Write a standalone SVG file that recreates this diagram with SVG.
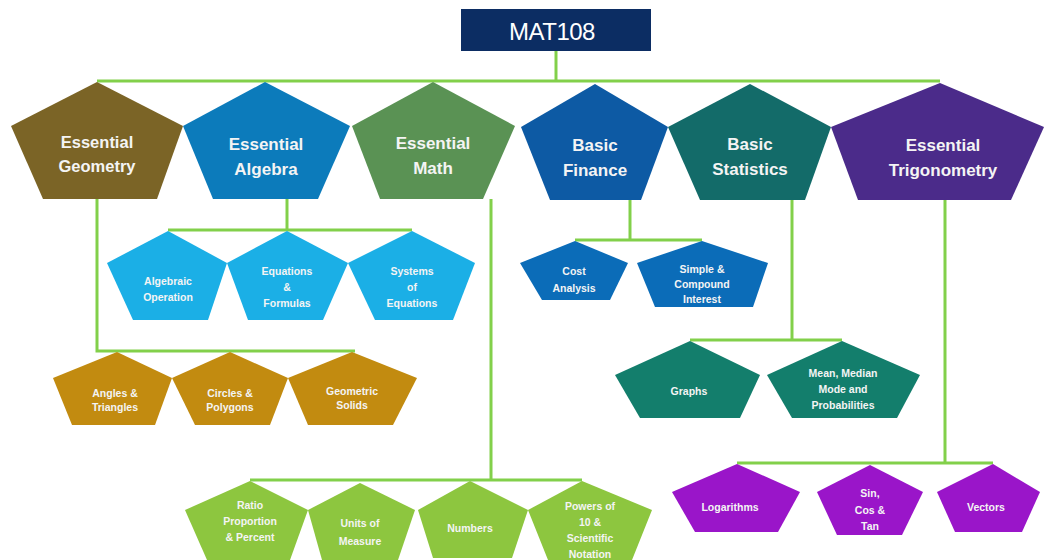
<svg xmlns="http://www.w3.org/2000/svg" width="1048" height="560" viewBox="0 0 1048 560">
<style>
.c{fill:none;stroke:#82d04a;stroke-width:3;stroke-linejoin:miter}
.t{font-family:"Liberation Sans",Arial,sans-serif;font-weight:bold;fill:#f4f4f4;text-anchor:middle}
.big{font-size:17px}
.sm{font-size:10.5px}
.root{font-family:"Liberation Sans",Arial,sans-serif;font-size:24px;fill:#ffffff;text-anchor:middle;letter-spacing:-0.5px}
</style>
<rect width="1048" height="560" fill="#ffffff"/>
<g id="connectors">
<polyline class="c" points="556,51 556,81"/>
<polyline class="c" points="97,81 940,81"/>
<polyline class="c" points="97,199 97,351 355,351"/>
<polyline class="c" points="287,199 287,230"/>
<polyline class="c" points="168,230 412,230"/>
<polyline class="c" points="491,199 491,480"/>
<polyline class="c" points="250,480 582,480"/>
<polyline class="c" points="630,200 630,240"/>
<polyline class="c" points="575,240 702,240"/>
<polyline class="c" points="792,200 792,340"/>
<polyline class="c" points="690,340 842,340"/>
<polyline class="c" points="945,200 945,463"/>
<polyline class="c" points="737,463 993,463"/>
</g>
<g id="mat108">
<rect x="461" y="9" width="190" height="42" fill="#0c2d63"/>
<text class="root" x="552" y="40">MAT108</text>
</g>
<g id="essential-geometry">
<polygon points="97,82 183,126 157,199 43,199 11,126" fill="#7b6426"/>
<text class="t" style="font-size:16.5px" x="97" y="148">Essential</text>
<text class="t" style="font-size:16.5px" x="97" y="172">Geometry</text>
</g>
<g id="essential-algebra">
<polygon points="265,82 350,126 318,199 213,199 183,126" fill="#0c7bbb"/>
<text class="t big" x="266" y="150">Essential</text>
<text class="t big" x="266" y="175">Algebra</text>
</g>
<g id="essential-math">
<polygon points="433,82 515,126 483,199 380,199 352,126" fill="#5a9254"/>
<text class="t big" x="433" y="149">Essential</text>
<text class="t big" x="433" y="174">Math</text>
</g>
<g id="basic-finance">
<polygon points="595,84 668,127 641,200 550,200 521,127" fill="#0d5aa4"/>
<text class="t big" x="595" y="151">Basic</text>
<text class="t big" x="595" y="176">Finance</text>
</g>
<g id="basic-statistics">
<polygon points="750,84 831,127 805,200 700,200 668,127" fill="#136b69"/>
<text class="t big" x="750" y="150">Basic</text>
<text class="t big" x="750" y="175">Statistics</text>
</g>
<g id="essential-trigonometry">
<polygon points="940,83 1044,127 1011,200 858,200 831,127" fill="#4b2b8a"/>
<text class="t big" x="943" y="151">Essential</text>
<text class="t big" x="943" y="176">Trigonometry</text>
</g>
<g id="algebraic-operation">
<polygon points="168,231 227,263 208,320 133,320 107,263" fill="#1bafe6"/>
<text class="t sm" x="168" y="285">Algebraic</text>
<text class="t sm" x="168" y="301">Operation</text>
</g>
<g id="equations-formulas">
<polygon points="287,231 348,263 323,320 248,320 227,263" fill="#1bafe6"/>
<text class="t sm" x="287" y="275">Equations</text>
<text class="t sm" x="287" y="291">&amp;</text>
<text class="t sm" x="287" y="307">Formulas</text>
</g>
<g id="systems-of-equations">
<polygon points="412,231 475,263 453,320 375,320 348,263" fill="#1bafe6"/>
<text class="t sm" x="412" y="275">Systems</text>
<text class="t sm" x="412" y="291">of</text>
<text class="t sm" x="412" y="307">Equations</text>
</g>
<g id="angles-triangles">
<polygon points="117,352 172,378 155,425 72,425 53,378" fill="#c28b10"/>
<text class="t sm" x="115" y="397">Angles &amp;</text>
<text class="t sm" x="115" y="411">Triangles</text>
</g>
<g id="circles-polygons">
<polygon points="230,352 288,378 270,425 195,425 172,378" fill="#c28b10"/>
<text class="t sm" x="230" y="397">Circles &amp;</text>
<text class="t sm" x="230" y="411">Polygons</text>
</g>
<g id="geometric-solids">
<polygon points="352,352 417,378 393,425 308,425 288,378" fill="#c28b10"/>
<text class="t sm" x="352" y="395">Geometric</text>
<text class="t sm" x="352" y="409">Solids</text>
</g>
<g id="cost-analysis">
<polygon points="575,241 628,263 610,300 542,300 520,263" fill="#0b6cb8"/>
<text class="t sm" x="574" y="275">Cost</text>
<text class="t sm" x="574" y="292">Analysis</text>
</g>
<g id="simple-compound-interest">
<polygon points="702,241 768,263 753,307 655,307 637,263" fill="#0b6cb8"/>
<text class="t sm" x="702" y="273">Simple &amp;</text>
<text class="t sm" x="702" y="288">Compound</text>
<text class="t sm" x="702" y="303">Interest</text>
</g>
<g id="graphs">
<polygon points="690,341 760,375 740,418 640,418 615,375" fill="#137e6c"/>
<text class="t sm" x="689" y="395">Graphs</text>
</g>
<g id="mean-median">
<polygon points="842,341 920,375 897,418 792,418 767,375" fill="#137e6c"/>
<text class="t sm" x="843" y="377">Mean, Median</text>
<text class="t sm" x="843" y="393">Mode and</text>
<text class="t sm" x="843" y="409">Probabilities</text>
</g>
<g id="ratio-proportion-percent">
<polygon points="250,481 308,510 290,560 207,560 185,510" fill="#8dc63f"/>
<text class="t sm" x="250" y="509">Ratio</text>
<text class="t sm" x="250" y="525">Proportion</text>
<text class="t sm" x="250" y="541">&amp; Percent</text>
</g>
<g id="units-of-measure">
<polygon points="360,483 415,510 398,560 322,560 308,510" fill="#8dc63f"/>
<text class="t sm" x="360" y="527">Units of</text>
<text class="t sm" x="360" y="545">Measure</text>
</g>
<g id="numbers">
<polygon points="470,481 528,510 512,558 433,558 418,510" fill="#8dc63f"/>
<text class="t sm" x="470" y="532">Numbers</text>
</g>
<g id="powers-of-10">
<polygon points="582,481 652,510 632,560 548,560 528,510" fill="#8dc63f"/>
<text class="t sm" x="590" y="510">Powers of</text>
<text class="t sm" x="590" y="526">10 &amp;</text>
<text class="t sm" x="590" y="542">Scientific</text>
<text class="t sm" x="590" y="558">Notation</text>
</g>
<g id="logarithms">
<polygon points="737,464 800,492 778,532 695,532 672,492" fill="#9a15c9"/>
<text class="t sm" x="730" y="511">Logarithms</text>
</g>
<g id="sin-cos-tan">
<polygon points="870,465 923,492 902,535 837,535 817,492" fill="#9a15c9"/>
<text class="t sm" x="870" y="497">Sin,</text>
<text class="t sm" x="870" y="514">Cos &amp;</text>
<text class="t sm" x="870" y="530">Tan</text>
</g>
<g id="vectors">
<polygon points="993,464 1040,492 1022,532 955,532 937,492" fill="#9a15c9"/>
<text class="t sm" x="986" y="511">Vectors</text>
</g>
</svg>
